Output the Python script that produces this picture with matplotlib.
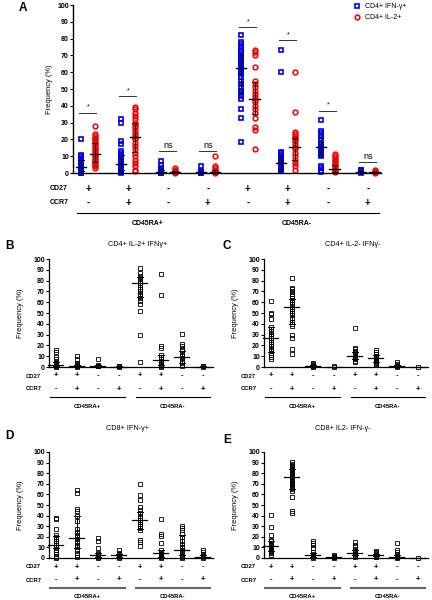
import matplotlib
matplotlib.use('Agg')
import matplotlib.pyplot as plt

plt.rcParams['font.family'] = ['Liberation Sans', 'DejaVu Sans']

W, H = 432, 600

# row labels under every panel
cd27 = ['+', '+', '-', '-', '+', '+', '-', '-']
ccr7 = ['-', '+', '-', '+', '-', '+', '-', '+']
groups = ['CD45RA+', 'CD45RA-']

# panel A, CD4+ IFN-g+ (blue squares)
a_ifn = [
    [20, 11, 10, 9, 8, 7, 6, 5, 4.5, 4, 3.5, 3, 2.5, 2, 1.5, 1, 0.5, 0.5, 0, 0],
    [32, 30, 19, 17, 13, 12, 11, 10, 9, 8, 7, 6, 5, 4, 3, 2, 1.5, 1, 0.5, 0],
    [7, 5, 3, 2, 1, 0.5, 0.2, 0],
    [4, 1, 0.5, 0.2, 0],
    [82, 78, 77, 75, 73, 72, 70, 69, 68, 67, 66, 65, 64, 63, 62, 61, 60, 59,
     57, 55, 53, 51, 49, 47.5, 46, 44, 38, 33, 18.7],
    [73.5, 60, 12.5, 12, 11, 10, 9, 8, 7, 6, 5, 4, 3, 2, 1.5, 1],
    [31.5, 25, 24, 22, 20, 18, 17, 16, 15, 14, 13, 12, 11, 10, 4, 3, 1, 0.5],
    [2, 1.5, 1, 0.5, 0],
]
a_ifn_med = [3.4, 5.6, 0.4, 0.3, 62.4, 6.2, 15.5, 0.5]
a_ifn_q1 = [1, 1.5, 0, 0, 47.5, 2, 10, 0]
a_ifn_q3 = [8, 11, 1.5, 0.8, 70, 10, 21, 1.2]

# panel A, CD4+ IL-2+ (red circles)
a_il2 = [
    [28, 23, 22, 21, 20, 19, 18, 17, 16, 15, 14, 13, 12, 11, 10, 9, 8, 7, 6, 5, 4, 3],
    [39, 38, 36, 34, 32, 30, 29, 28, 27, 25, 23, 22, 21, 20, 18, 16, 14, 12, 10,
     8, 6, 4, 2, 1],
    [3, 2, 1, 0.5, 0],
    [10, 4, 3, 2, 1, 0.5, 0],
    [73, 72, 70, 63, 54.5, 53, 51, 49, 47, 45, 43.5, 42, 40, 38, 35.6, 32.6,
     27.6, 25.6, 14],
    [60, 36.5, 24.5, 23.5, 22, 21, 20, 19, 17.5, 15.5, 14, 12, 10, 8, 6, 4, 2],
    [11.3, 10, 9, 8, 7, 6, 5, 4, 3, 2, 1.8, 1, 0.5],
    [2, 1, 0.5, 0],
]
a_il2_med = [11.3, 21.3, 0.3, 0.5, 44, 15.7, 2.4, 0.3]
a_il2_q1 = [6.5, 12.5, 0, 0, 35, 7.5, 0.8, 0]
a_il2_q3 = [18, 29.5, 1, 2, 54, 21, 5, 0.8]

a_sig = ['*', '*', 'ns', 'ns', '*', '*', '*', 'ns']
a_sig_y = [36, 46, 13, 13, 87, 79.3, 37.2, 6.5]

# panel B, CD4+ IL-2+ IFNg+
b_vals = [
    [16, 14, 9, 7, 5, 4, 3, 2.5, 2, 1.5, 1, 0.5, 0],
    [10, 7, 4, 3, 2, 1.5, 1, 0.5, 0],
    [7.5, 2, 1, 0.5],
    [1, 0.5, 0],
    [92, 87, 84, 82, 80, 78, 76, 74, 72, 70, 68, 66, 64, 61, 58, 52, 30, 5],
    [86, 67, 19, 18, 11, 9, 7, 5, 3, 2, 1, 0],
    [31, 21, 19, 17, 15, 12, 10, 8, 6, 4, 2, 1],
    [1, 0.5, 0],
]
b_med = [2.2, 1, 0.5, 0.3, 77.6, 6.8, 9, 0.3]
b_q1 = [0.5, 0.3, 0, 0, 65, 2, 3.5, 0]
b_q3 = [4.5, 2, 1.5, 0.8, 83, 11, 14.5, 0.8]

# panel C, CD4+ IL-2- IFNg-
c_vals = [
    [61, 50, 49, 44, 37, 35, 33, 31, 29, 27, 25, 23, 21, 19, 17, 15, 13, 11, 9, 7],
    [82, 73, 72, 70, 68, 66, 64, 62, 60, 58, 56, 54, 52, 50, 48, 45, 42, 40, 38,
     30, 27, 17, 12],
    [3.5, 3, 2, 1, 0.5, 0],
    [0.5, 0],
    [36, 18, 17, 15, 14, 12, 10, 9, 8, 7, 6, 5],
    [16, 14, 12, 10, 9, 8, 7, 6, 5, 4, 3, 2],
    [5, 3, 2, 1, 0.5, 0],
    [0],
]
c_med = [26.4, 56, 0.5, 0.2, 9.9, 8.5, 0.6, 0]
c_q1 = [13.5, 39.7, 0, 0, 7, 5, 0, 0]
c_q3 = [36.6, 63, 1.5, 0.4, 14, 11, 1.5, 0]

# panel D, CD8+ IFN-g+
d_vals = [
    [38, 37, 27, 22, 20, 18, 16, 14, 12, 10, 8, 6, 4, 2, 1, 0],
    [64, 61, 46, 44, 40, 35, 27, 25, 22, 20, 18, 15, 12, 10, 8, 5, 3, 1],
    [19, 16, 9, 5, 4, 3, 2, 1, 0],
    [8, 5, 4, 3, 2, 1, 0],
    [70, 59, 55, 48, 45, 42, 40, 38, 36, 34, 32, 30, 28, 26, 17, 15, 11],
    [37, 23, 21, 14, 8, 6, 5, 4, 3, 2, 1, 0],
    [30, 28, 26, 23, 20, 16, 13, 10, 8, 6, 5, 3, 2, 1, 0],
    [8, 6, 4, 3, 2, 1, 0],
]
d_med = [12.5, 18.7, 2.5, 2.5, 35.6, 4.7, 7.8, 1]
d_q1 = [9, 9, 0.5, 0.5, 27, 1, 3, 0]
d_q3 = [21, 40, 5, 4, 43, 8, 22, 3]

# panel E, CD8+ IL2- IFN-g-
e_vals = [
    [40.5, 29, 22, 17, 16, 14, 13, 12, 11, 10, 9, 8, 7, 6, 5, 3],
    [91, 89, 88, 87, 86, 85, 84, 83, 82, 81, 80, 79, 78, 77, 76, 75, 74, 73,
     72, 71, 70, 68, 66, 65, 63, 58, 44, 42],
    [16, 14, 12, 9, 6, 4, 3, 2, 1, 0],
    [3, 2, 1, 0.5, 0],
    [15, 12, 10, 8, 7, 6, 5, 4, 3, 2, 1],
    [7, 6, 5, 4, 3, 2, 1, 0.5],
    [14, 8, 6, 4, 3, 2, 1, 0.5, 0],
    [0],
]
e_med = [11, 76.5, 3, 0.5, 4.5, 2.5, 1, 0]
e_q1 = [7, 65.5, 0.5, 0, 2.5, 1.5, 0.3, 0]
e_q3 = [16, 84, 5, 1.2, 8, 4, 3, 0]


def add_ax(l, t, r, b):
    # box in pixels of the 432x600 figure
    return fig.add_axes([l / W, 1 - b / H, (r - l) / W, (b - t) / H])


def fpos(x, y):
    return x / W, 1 - y / H


def style(ax, xlim, lw=0.9):
    for s in ['top', 'right']:
        ax.spines[s].set_visible(False)
    ax.spines['left'].set_linewidth(lw)
    ax.spines['bottom'].set_linewidth(lw)
    ax.set_xlim(xlim)
    ax.set_ylim(0, 100)
    ax.set_xticks([])
    ax.set_yticks(range(0, 101, 10))
    ax.tick_params(axis='y', length=2, width=0.8, pad=1, labelsize=5)
    for lab in ax.get_yticklabels():
        lab.set_fontweight('bold')


def summary(ax, x, med, q1, q3, mw, cw, lw=1.0):
    ax.plot([x - mw, x + mw], [med, med], 'k-', lw=lw, zorder=5, clip_on=False)
    ax.plot([x, x], [q1, q3], 'k-', lw=0.7, zorder=5, clip_on=False)
    ax.plot([x - cw, x + cw], [q1, q1], 'k-', lw=0.7, zorder=5, clip_on=False)
    ax.plot([x - cw, x + cw], [q3, q3], 'k-', lw=0.7, zorder=5, clip_on=False)


def under_labels(ax, ys, fs_sign, fs_lab, lines, line_col, line_lw, x0, fx):
    tr = ax.get_xaxis_transform()
    for i in range(8):
        ax.text(i, ys[0], cd27[i], transform=tr, ha='center', va='center',
                fontsize=fs_sign, fontweight='bold', clip_on=False)
        ax.text(i, ys[1], ccr7[i], transform=tr, ha='center', va='center',
                fontsize=fs_sign, fontweight='bold', clip_on=False)
    for (a, b), g in zip(lines, groups):
        ax.plot([a, b], [ys[2], ys[2]], color=line_col, lw=line_lw,
                transform=tr, clip_on=False)
        ax.text((a + b) / 2, ys[3], g, transform=tr, ha='center', va='center',
                fontsize=fs_lab, fontweight='bold', clip_on=False)
    fig.text(*fpos(fx, x0[0]), 'CD27', fontsize=fs_lab, fontweight='bold',
             va='center', ha='left')
    fig.text(*fpos(fx, x0[1]), 'CCR7', fontsize=fs_lab, fontweight='bold',
             va='center', ha='left')


fig = plt.figure(figsize=(W / 100, H / 100), dpi=100)

# ---- panel A ----
axA = add_ax(73, 5, 381, 173)
style(axA, (-0.375, 7.33), lw=1.0)
off = 0.17
for i in range(8):
    hb, = axA.plot([i - off] * len(a_ifn[i]), a_ifn[i], ls='none', marker='s',
                   ms=3.3, mfc='none', mec='#0000ee', mew=1.2, clip_on=False)
    hr, = axA.plot([i + off] * len(a_il2[i]), a_il2[i], ls='none', marker='o',
                   ms=3.4, mfc='none', mec='#ee0000', mew=1.1, clip_on=False)
    summary(axA, i - off, a_ifn_med[i], a_ifn_q1[i], a_ifn_q3[i], 0.13, 0.06)
    summary(axA, i + off, a_il2_med[i], a_il2_q1[i], a_il2_q3[i], 0.13, 0.06)
    axA.plot([i - 0.22, i + 0.2], [a_sig_y[i]] * 2, color='#333333', lw=0.7)
    if a_sig[i] == '*':
        axA.text(i, a_sig_y[i] + 1, '*', ha='center', va='bottom', fontsize=5)
    else:
        axA.text(i, a_sig_y[i] + 0.5, 'ns', ha='center', va='bottom', fontsize=6.5)
axA.set_ylabel('Frequency (%)', fontsize=5.4, labelpad=0)
axA.yaxis.set_label_coords(-0.066, 0.5)
under_labels(axA, [-0.095, -0.179, -0.238, -0.298], 7, 5,
             [(-0.28, 3.25), (3.18, 7.27)], 'k', 0.8, (189, 203), 50)
axA.legend([hb, hr], ['CD4+ IFN-\u03b3+', 'CD4+ IL-2+'], loc='upper left',
           bbox_to_anchor=fpos(350, 0), bbox_transform=fig.transFigure,
           frameon=False, fontsize=5, handlelength=1.0, handletextpad=0.6,
           borderpad=0, labelspacing=0.5)
fig.text(*fpos(23, 8), 'A', fontsize=8.5, fontweight='bold', ha='center', va='center')

# ---- panels B-E ----
panels = [
    ('B', 'CD4+ IL-2+ IFN\u03b3+', b_vals, b_med, b_q1, b_q3, 49, 259, 367, (9, 246), 138, 244, 'k', 0.8),
    ('C', 'CD4+ IL-2- IFN\u03b3-', c_vals, c_med, c_q1, c_q3, 264, 259, 367, (227, 246), 353, 244, 'k', 0.8),
    ('D', 'CD8+ IFN-\u03b3+', d_vals, d_med, d_q1, d_q3, 49, 452, 558, (9, 436), 128, 429, '#666666', 1.5),
    ('E', 'CD8+ IL2- IFN-\u03b3-', e_vals, e_med, e_q1, e_q3, 264, 452, 558, (227, 440), 343, 429, '#666666', 1.5),
]
for (letter, title, vals, med, q1, q3, left, top, bot, lpos, tx, ty,
     lcol, llw) in panels:
    ax = add_ax(left, top, left + 164, bot)
    style(ax, (-0.33, 7.48))
    for i in range(8):
        ax.plot([i] * len(vals[i]), vals[i], ls='none', marker='s', ms=2.9,
                mfc='none', mec='k', mew=0.6, clip_on=False)
        summary(ax, i, med[i], q1[i], q3[i], 0.36, 0.15, lw=0.9)
    ax.set_ylabel('Frequency (%)', fontsize=5.4, labelpad=0)
    ax.yaxis.set_label_coords(-0.152, 0.5)
    h = bot - top
    rows = [-(9 / h), -(22 / h), -(30 / h), -(39 / h)]
    under_labels(ax, rows, 5.5, 4.2, [(-0.3, 3.3), (3.8, 7.35)], lcol, llw,
                 (bot + 9, bot + 22), left - 23)
    fig.text(*fpos(tx, ty), title, fontsize=5.2, ha='center', va='center')
    fig.text(*fpos(*lpos), letter, fontsize=8.5, fontweight='bold',
             ha='center', va='center')

fig.savefig('out.png', dpi=100)
